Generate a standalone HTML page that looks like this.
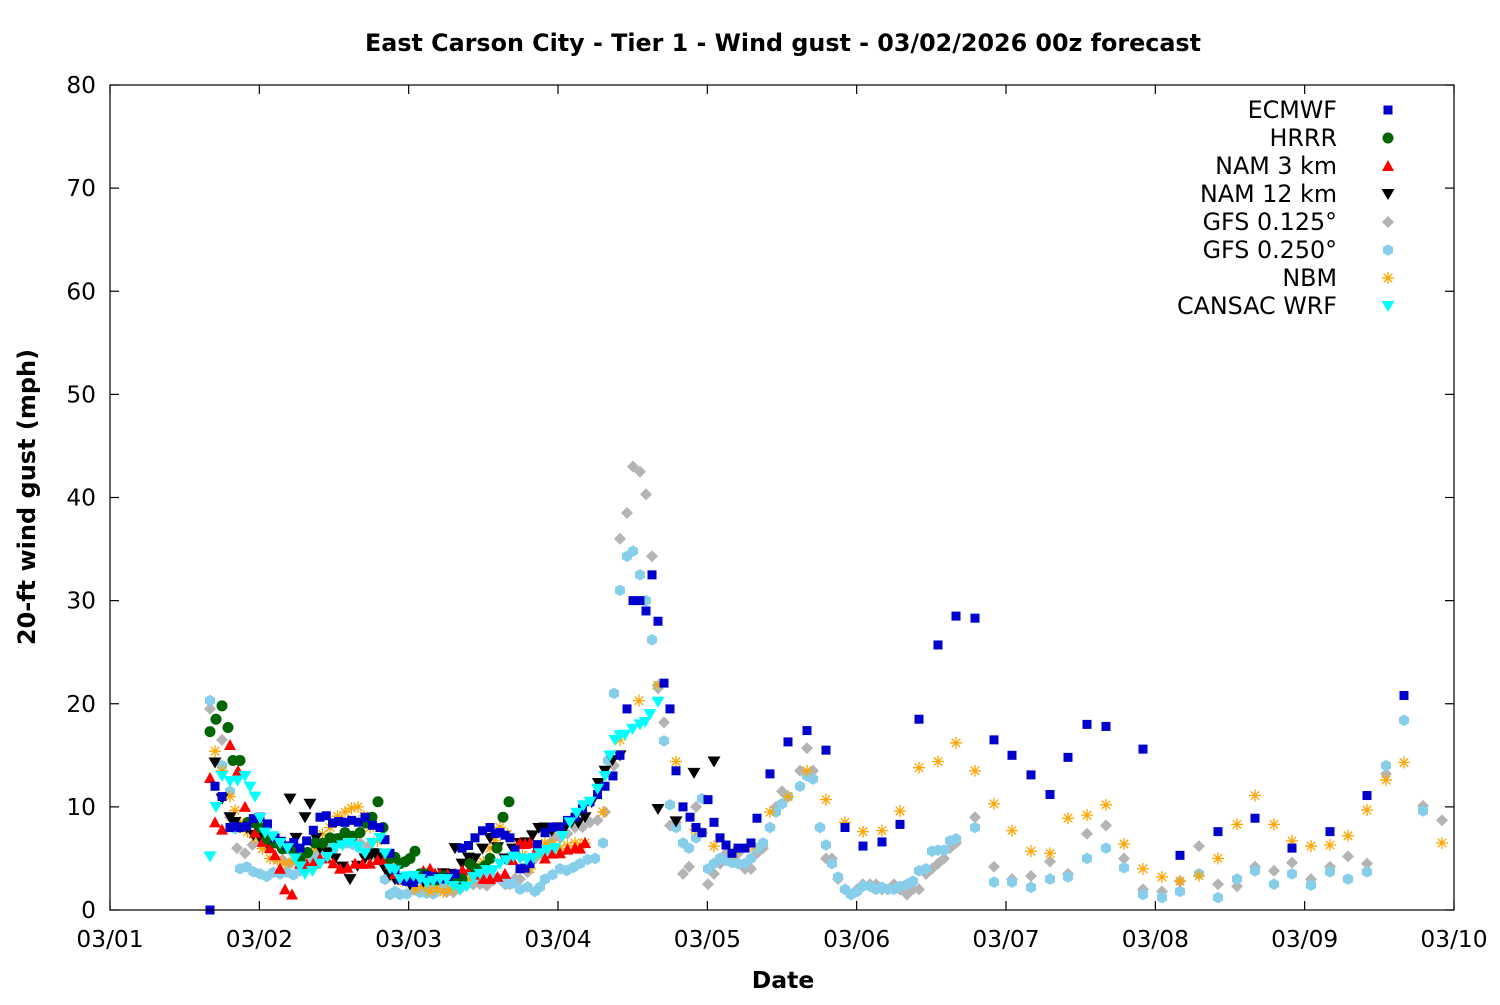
<!DOCTYPE html>
<html><head><meta charset="utf-8"><style>
html,body{margin:0;padding:0;background:#fff;}
svg text{font-family:"DejaVu Sans","Liberation Sans",sans-serif;}
</style></head><body>
<svg id="s" xmlns="http://www.w3.org/2000/svg" width="1500" height="1000" viewBox="0 0 1500 1000">
<rect width="1500" height="1000" fill="#fff"/>
<text x="783" y="51" text-anchor="middle" font-size="23.8" font-weight="bold">East Carson City - Tier 1 - Wind gust - 03/02/2026 00z forecast</text>
<g id="axes" stroke="#000" stroke-width="1.2" fill="none"></g>
<g id="lbl" font-size="23.3"></g>
<text transform="translate(35,497) rotate(-90)" text-anchor="middle" font-size="24" font-weight="bold">20-ft wind gust (mph)</text>
<text x="783" y="988" text-anchor="middle" font-size="23.5" font-weight="bold">Date</text>
<g id="pts"></g>
<g id="leg" font-size="23.8"></g>
<rect x="110" y="85" width="1344" height="825" fill="none" stroke="#000" stroke-width="1.2"/>
</svg>
<script>
var NS="http://www.w3.org/2000/svg";
function el(p,t,a){var e=document.createElementNS(NS,t);for(var k in a)e.setAttribute(k,a[k]);p.appendChild(e);return e;}
var ax=document.getElementById('axes'),lbl=document.getElementById('lbl');
function Y(v){return 910-v*10.3125;}
for(var v=0;v<=80;v+=10){var y=Y(v);
 el(ax,'line',{x1:110,y1:y,x2:119,y2:y});el(ax,'line',{x1:1454,y1:y,x2:1445,y2:y});
 var t=el(lbl,'text',{x:96,y:y+8,'text-anchor':'end'});t.textContent=v;}
var days=['03/01','03/02','03/03','03/04','03/05','03/06','03/07','03/08','03/09','03/10'];
for(var i=0;i<10;i++){var x=110+i*1344/9;
 el(ax,'line',{x1:x,y1:910,x2:x,y2:901});el(ax,'line',{x1:x,y1:85,x2:x,y2:94});
 var t=el(lbl,'text',{x:x,y:947,'text-anchor':'middle'});t.textContent=days[i];}
var P=document.getElementById('pts');
function mark(g,type,c,x,y){
 switch(type){
 case 'sq':el(g,'rect',{x:x-4.5,y:y-4.5,width:9,height:9,fill:c});break;
 case 'ci':el(g,'circle',{cx:x,cy:y,r:5.5,fill:c});break;
 case 'tu':el(g,'polygon',{points:(x)+','+(y-6)+' '+(x+6)+','+(y+5)+' '+(x-6)+','+(y+5),fill:c});break;
 case 'td':el(g,'polygon',{points:(x)+','+(y+6)+' '+(x+6.5)+','+(y-5)+' '+(x-6.5)+','+(y-5),fill:c});break;
 case 'di':el(g,'polygon',{points:(x)+','+(y-6)+' '+(x+6)+','+y+' '+x+','+(y+6)+' '+(x-6)+','+y,fill:c});break;
 case 'he':var s='';for(var k=0;k<6;k++){var a=Math.PI/3*k+Math.PI/6;s+=(x+5.8*Math.cos(a))+','+(y+5.8*Math.sin(a))+' ';}el(g,'polygon',{points:s,fill:c});break;
 case 'st':var d='';for(var k=0;k<4;k++){var a=Math.PI/4*k;d+='M'+(x-6*Math.cos(a))+' '+(y-6*Math.sin(a))+'L'+(x+6*Math.cos(a))+' '+(y+6*Math.sin(a));}el(g,'path',{d:d,stroke:c,'stroke-width':1.3,fill:'none'});break;
 }}
var S=[
{n:'GFS 0.125°',t:'di',c:'#b4b4b4',de:625,kp:[[210,19.5],[216,18.5],[222,16.5],[230,9],[237,6],[245,5.5],[260,6.5],[275,5],[290,4.5],[305,5],[320,5.5],[340,7],[360,6.5],[375,5.5],[390,3.5],[400,3],[420,2],[440,2],[460,2],[480,2.5],[500,3],[510,2.5],[520,3],[535,5],[550,6.5],[560,7],[575,8],[590,8.5],[605,9.5],[614,14],[620,36],[627,38.5],[633,43],[640,42.5],[646,40.3],[652,34.3],[658,21.5],[664,18.2],[670,8.2],[676,8.5],[683,3.5],[689,4.2],[696,10],[702,7.5],[708,2.5],[714,3.5],[720,4.5],[726,5.5],[732,5],[738,5.5],[745,4],[751,4],[757,5.5],[763,6],[770,8],[776,10],[782,11.5],[788,11],[800,13.5],[807,15.7],[813,13.5],[820,8],[826,5],[832,5],[838,3],[845,2],[851,1.5],[857,2],[863,2.5],[870,2.5],[876,2.5],[882,2],[888,2],[894,2.5],[900,2],[907,1.5],[913,2],[919,2],[926,3.5],[932,4],[938,4.5],[944,5],[950,6],[956,6.5],[975,9],[994,4.2],[1012,3],[1031,3.3],[1050,4.7],[1068,3.5],[1087,7.4],[1106,8.2],[1124,5],[1143,2],[1162,1.8],[1180,2.8],[1199,6.2],[1218,2.5],[1237,2.3],[1255,4.2],[1274,3.8],[1292,4.6],[1311,3],[1330,4.2],[1348,5.2],[1367,4.5],[1386,13.2],[1423,10.1],[1442,8.7]]},
{n:'GFS 0.250°',t:'he',c:'#87ceeb',de:625,kp:[[210,20.3],[216,18.5],[222,14],[230,11.5],[240,4],[260,3.5],[280,3.5],[300,3.8],[320,5.5],[340,6.5],[360,6],[380,5],[390,1.5],[400,1.5],[420,1.7],[440,2],[460,2.5],[480,3.5],[500,3],[520,2],[535,1.8],[545,3],[560,4],[580,4.5],[595,5],[603,6.5],[608,14.5],[614,21],[620,31],[627,34.3],[633,34.8],[640,32.5],[646,30],[652,26.2],[658,21.7],[664,16.4],[670,10.2],[676,8],[683,6.5],[689,6],[696,7],[702,10.8],[708,4],[714,4.5],[720,5],[726,4.8],[732,4.6],[738,4.5],[745,4.5],[751,5],[757,6],[763,6.5],[770,8],[776,9.5],[782,10.3],[788,11],[800,12],[807,13],[813,12.7],[820,8],[826,6.3],[832,4.5],[838,3.2],[845,2],[851,1.5],[857,1.8],[863,2.3],[870,2.3],[876,2],[882,2.2],[888,2],[894,2],[900,2.3],[907,2.5],[913,2.8],[919,3.8],[926,4],[932,5.7],[938,5.8],[944,5.8],[950,6.7],[956,6.9],[975,8],[994,2.7],[1012,2.7],[1031,2.2],[1050,3],[1068,3.2],[1087,5],[1106,6],[1124,4.1],[1143,1.5],[1162,1.2],[1180,1.8],[1199,3.5],[1218,1.2],[1237,3],[1255,3.8],[1274,2.5],[1292,3.5],[1311,2.4],[1330,3.7],[1348,3],[1367,3.7],[1386,14],[1404,18.4],[1423,9.6]]},
{n:'NBM',t:'st',c:'#ffa500',de:590,kp:[[215,15.4],[222,13.5],[230,11],[240,8.5],[255,7],[270,5],[285,4.5],[300,4.5],[315,6],[330,8],[345,9.5],[358,10],[370,8],[385,5],[400,3],[415,2],[430,1.8],[450,2],[470,3],[490,6],[500,8],[515,6],[530,4],[545,6.5],[560,6],[575,6.5],[585,6.5],[603,9.5],[620,16.5],[639,20.3],[658,21.8],[676,14.4],[695,7.8],[714,6.2],[733,5.5],[751,6.2],[770,9.5],[788,11],[807,13.5],[826,10.7],[845,8.5],[863,7.6],[882,7.7],[900,9.6],[919,13.8],[938,14.4],[956,16.2],[975,13.5],[994,10.3],[1012,7.7],[1031,5.7],[1050,5.5],[1068,8.9],[1087,9.2],[1106,10.2],[1124,6.4],[1143,4],[1162,3.2],[1180,2.8],[1199,3.3],[1218,5],[1237,8.3],[1255,11.1],[1274,8.3],[1292,6.7],[1311,6.2],[1330,6.3],[1348,7.2],[1367,9.7],[1386,12.6],[1404,14.3],[1442,6.5]]},
{n:'NAM 12 km',t:'td',c:'#000',de:622,kp:[[215,14.3],[222,10.8],[230,9],[240,8],[260,7],[280,6],[286,6],[290,10.8],[296,7],[305,9],[310,10.3],[316,7],[320,6],[335,5],[350,3],[365,5],[375,5.5],[385,4],[395,3],[410,2.5],[430,3],[450,3.5],[455,6],[462,4.5],[475,5],[490,7],[505,5],[520,6.5],[545,8],[565,8],[585,9],[605,13.5],[620,15],[658,9.8],[676,8.6],[694,13.3],[714,14.4]]},
{n:'NAM 3 km',t:'tu',c:'#f00',de:600,kp:[[210,12.8],[215,8.5],[222,7.8],[230,16],[238,13.5],[245,10],[255,7.5],[270,6],[280,4],[285,2],[292,1.5],[300,4.5],[320,5],[340,4],[355,4.5],[370,4.5],[385,5],[395,3.5],[410,3],[430,4],[440,3.5],[455,3.5],[470,4],[490,3],[505,3.5],[520,6.5],[530,6.5],[545,5],[560,5.5],[575,6],[585,6.5]]},
{n:'HRRR',t:'ci',c:'#006400',de:600,kp:[[210,17.3],[216,18.5],[222,19.8],[228,17.7],[233,14.5],[240,14.5],[248,8.5],[260,8],[275,6.5],[290,6],[300,5],[315,6.5],[330,7],[345,7.5],[360,7.5],[372,9],[378,10.5],[383,8],[390,5],[400,4.5],[410,5],[415,5.7],[420,3.5],[430,3],[450,3],[462,3],[470,4.5],[480,4],[490,5],[497,6],[503,9],[509,10.5]]},
{n:'ECMWF',t:'sq',c:'#0000cd',de:680,kp:[[210,0],[215,12],[222,11],[230,8],[240,8],[260,9],[275,7],[300,6],[320,9],[345,8.5],[365,9],[380,8],[390,5.5],[400,3],[420,3],[440,3],[455,3.5],[462,6],[475,7],[490,8],[500,7.5],[510,7],[520,4],[530,4.5],[545,7.5],[560,8],[575,9],[590,10.5],[605,12],[613,13],[620,15],[627,19.5],[633,30],[640,30],[646,29],[652,32.5],[658,28],[664,22],[670,19.5],[676,13.5],[683,10],[690,9],[696,8],[702,7.5],[708,10.7],[714,8.5],[720,7],[726,6.3],[732,5.5],[738,6],[745,6],[751,6.5],[757,8.9],[770,13.2],[788,16.3],[807,17.4],[826,15.5],[845,8],[863,6.2],[882,6.6],[900,8.3],[919,18.5],[938,25.7],[956,28.5],[975,28.3],[994,16.5],[1012,15],[1031,13.1],[1050,11.2],[1068,14.8],[1087,18],[1106,17.8],[1143,15.6],[1180,5.3],[1218,7.6],[1255,8.9],[1292,6],[1330,7.6],[1367,11.1],[1404,20.8]]},
{n:'CANSAC WRF',t:'td',c:'#00ffff',de:700,kp:[[210,5.2],[216,10],[222,13],[230,12.5],[245,13],[255,11],[265,7.5],[280,6.5],[295,5],[305,3.5],[320,4.5],[335,6],[350,6.5],[365,5.5],[380,7],[390,4],[400,3],[420,3],[440,3],[460,2],[480,3.5],[500,4.5],[520,5],[540,5.5],[555,6],[570,8.5],[590,10.5],[605,13],[615,16.5],[625,17],[640,18],[650,19],[658,20.2]]}
];
S.forEach(function(s,si){
 var g=el(P,'g',{});var kp=s.kp;var step=6.22;
 for(var i=0;i<kp.length;i++){
  var a=kp[i];mark(g,s.t,s.c,a[0],Y(a[1]));
  if(i+1<kp.length){var b=kp[i+1];
   if(b[0]<=s.de&&b[0]-a[0]>9){var n=Math.round((b[0]-a[0])/step);
    for(var k=1;k<n;k++){var f=k/n;var x=a[0]+(b[0]-a[0])*f;var v=a[1]+(b[1]-a[1])*f+0.35*Math.sin(x*1.7+si*3);
     mark(g,s.t,s.c,x,Y(Math.max(0,v)));}}}
 }});
var legend=[['ECMWF','sq','#0000cd'],['HRRR','ci','#006400'],['NAM 3 km','tu','#f00'],['NAM 12 km','td','#000'],['GFS 0.125°','di','#b4b4b4'],['GFS 0.250°','he','#87ceeb'],['NBM','st','#ffa500'],['CANSAC WRF','td','#00ffff']];
var L=document.getElementById('leg');
legend.forEach(function(l,i){var y=110+i*28;var t=el(L,'text',{x:1337,y:y+8,'text-anchor':'end'});t.textContent=l[0];mark(L,l[1],l[2],1388,y);});
</script>
</body></html>
